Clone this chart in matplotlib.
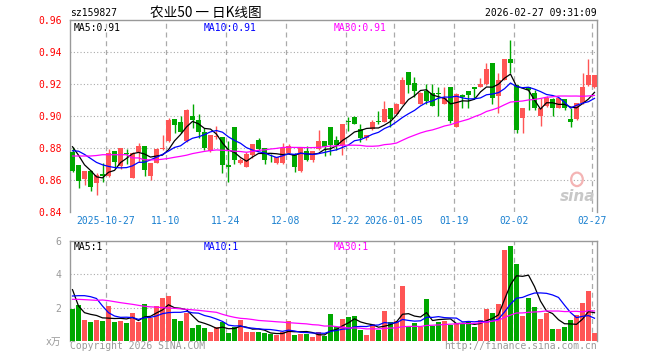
import numpy as np
import pandas as pd
import matplotlib
matplotlib.use("Agg")
import matplotlib.pyplot as plt
from matplotlib.patches import Ellipse

# ---------------- data ----------------
opens = [0.8777,0.8694,0.8608,0.8656,0.8583,0.8635,0.8623,0.8783,0.8690,0.8768,
         0.8615,0.8777,0.8812,0.8627,0.8708,0.8795,0.8844,0.8981,0.8963,0.8844,
         0.9000,0.8975,0.8902,0.8783,0.8868,0.8866,0.8692,0.8930,0.8704,0.8683,
         0.8756,0.8850,0.8800,0.8733,0.8704,0.8708,0.8767,0.8763,0.8656,0.8783,
         0.8725,0.8794,0.8844,0.8933,0.8850,0.8819,0.8967,0.8992,0.8921,0.8865,
         0.8917,0.8969,0.8965,0.9050,0.9013,0.9075,0.9275,0.9208,0.9075,0.9158,
         0.9146,0.9142,0.9075,0.9179,0.8933,0.9131,0.9158,0.9179,0.9179,0.9200,
         0.9329,0.9125,0.9225,0.9356,0.9194,0.8985,0.9179,0.9146,0.9000,0.9063,
         0.9104,0.9048,0.9104,0.8979,0.8979,0.9079,0.9194,0.9179]
highs = [0.8805,0.8694,0.8656,0.8660,0.8642,0.8704,0.8796,0.8783,0.8802,0.8796,
         0.8777,0.8832,0.8812,0.8706,0.8802,0.8881,0.8985,0.8981,0.9000,0.9044,
         0.9072,0.9010,0.8923,0.8881,0.8935,0.8866,0.8844,0.8930,0.8740,0.8775,
         0.8825,0.8860,0.8800,0.8760,0.8746,0.8829,0.8825,0.8770,0.8798,0.8810,
         0.8783,0.8913,0.8844,0.8933,0.8875,0.8950,0.8992,0.9000,0.8950,0.8883,
         0.8975,0.9033,0.9096,0.9050,0.9083,0.9242,0.9275,0.9242,0.9150,0.9200,
         0.9200,0.9179,0.9179,0.9179,0.9146,0.9140,0.9158,0.9179,0.9240,0.9329,
         0.9329,0.9267,0.9354,0.9475,0.9194,0.9048,0.9179,0.9160,0.9110,0.9125,
         0.9110,0.9115,0.9104,0.9048,0.9083,0.9267,0.9354,0.9256]
lows = [0.8652,0.8552,0.8569,0.8531,0.8506,0.8590,0.8617,0.8677,0.8669,0.8702,
        0.8610,0.8710,0.8627,0.8600,0.8708,0.8788,0.8840,0.8896,0.8892,0.8840,
        0.8925,0.8860,0.8790,0.8775,0.8855,0.8645,0.8590,0.8700,0.8700,0.8683,
        0.8740,0.8790,0.8700,0.8715,0.8700,0.8700,0.8760,0.8652,0.8650,0.8720,
        0.8712,0.8790,0.8750,0.8756,0.8790,0.8756,0.8908,0.8950,0.8840,0.8848,
        0.8913,0.8950,0.8963,0.8933,0.9013,0.9075,0.9146,0.9121,0.9075,0.9075,
        0.9060,0.9000,0.9075,0.8958,0.8929,0.9048,0.9048,0.9104,0.9179,0.9194,
        0.9075,0.9021,0.9225,0.9267,0.8892,0.8892,0.9040,0.9040,0.8938,0.9058,
        0.9000,0.9048,0.9038,0.8933,0.8975,0.9075,0.9188,0.9175]
closes = [0.8658,0.8596,0.8656,0.8558,0.8631,0.8625,0.8771,0.8715,0.8802,0.8762,
          0.8771,0.8812,0.8665,0.8706,0.8796,0.8800,0.8977,0.8944,0.8902,0.9035,
          0.8973,0.8902,0.8800,0.8881,0.8878,0.8694,0.8683,0.8725,0.8725,0.8760,
          0.8825,0.8794,0.8725,0.8730,0.8746,0.8798,0.8813,0.8683,0.8798,0.8725,
          0.8783,0.8844,0.8804,0.8819,0.8819,0.8950,0.8963,0.8950,0.8865,0.8883,
          0.8963,0.8965,0.9042,0.8979,0.9075,0.9225,0.9194,0.9158,0.9146,0.9096,
          0.9063,0.9138,0.9110,0.8971,0.9138,0.9117,0.9131,0.9167,0.9200,0.9292,
          0.9110,0.9225,0.9354,0.9329,0.8913,0.9048,0.9160,0.9048,0.9048,0.9110,
          0.9048,0.9110,0.9048,0.8965,0.9083,0.9179,0.9256,0.9256]
volumes = [1.90,2.16,1.24,1.12,1.24,1.18,2.08,1.12,1.18,1.06,
           1.66,1.12,2.20,1.36,2.08,2.56,2.68,1.30,1.18,1.66,
           0.76,0.94,0.76,0.52,0.82,1.12,0.46,0.82,1.24,0.52,
           0.52,0.52,0.46,0.40,0.34,0.52,1.18,0.34,0.40,0.40,
           0.22,0.52,0.28,1.60,0.84,1.32,1.42,1.48,0.66,0.34,
           1.00,0.66,1.78,1.12,1.18,3.28,0.84,1.06,0.84,2.50,
           0.90,1.12,1.18,0.94,1.08,1.00,1.12,0.84,1.24,1.90,
           1.66,2.20,5.44,5.68,4.60,1.48,2.56,2.02,1.30,1.66,
           0.70,0.70,0.82,1.24,1.54,2.26,2.98,0.46]

# moving-average values at the left edge (they depend on days before the window)
ma5_head = [0.8808,0.8755,0.8695,0.8660]
ma10_head = [0.8783,0.8780,0.8760,0.8735,0.8710,0.8695,0.8685,0.8678,0.8676]
ma30_head = [0.8750,0.8750,0.8750,0.8750,0.8753,0.8758,0.8758,0.8758,0.8758,0.8758,
             0.8738,0.8738,0.8726,0.8726,0.8726,0.8730,0.8735,0.8742,0.8748,0.8755,
             0.8765,0.8772,0.8779,0.8784,0.8788,0.8786,0.8784,0.8780,0.8778]
vma5_head = [3.08,2.10,1.70,1.60]
vma10_head = [2.70,2.72,2.72,2.66,2.55,2.10,1.70,1.50,1.42]
vma30_head = [2.50,2.50,2.48,2.46,2.44,2.46,2.42,2.36,2.30,2.25,
              2.20,2.14,2.08,2.05,2.03,2.00,1.98,1.96,1.93,1.90,
              1.87,1.84,1.80,1.76,1.72,1.60,1.50,1.42,1.36]

tick_labels = ["2025-10-27","11-10","11-24","12-08","12-22","2026-01-05","01-19","02-02","02-27"]
tick_index = [6,16,26,36,46,54,64,74,87]
price_ticks = [0.84,0.86,0.88,0.90,0.92,0.94,0.96]
vol_ticks = [2,4,6]

code = "sz159827"
title = "农业50 一 日K线图"
stamp = "2026-02-27 09:31:09"
legend_price = ["MA5:0.91", "MA10:0.91", "MA30:0.91"]
legend_vol = ["MA5:1", "MA10:1", "MA30:1"]

# ---------------- helpers ----------------
def with_head(values, n, head):
    s = pd.Series(values).rolling(n).mean().to_numpy()
    s[:len(head)] = head
    return s

ma5 = with_head(closes, 5, ma5_head)
ma10 = with_head(closes, 10, ma10_head)
ma30 = with_head(closes, 30, ma30_head)
vma5 = with_head(volumes, 5, vma5_head)
vma10 = with_head(volumes, 10, vma10_head)
vma30 = with_head(volumes, 30, vma30_head)

RED = "#ff5555"
GREEN = "#00a800"
GRID = "#aaaaaa"
SPINE = "#999999"
MA_COLORS = ["black", "#0000ff", "#ff00ff"]
MONO = "DejaVu Sans Mono"
CJK = ["Noto Sans CJK SC", "DejaVu Sans"]
FS = 7.0

W, H = 660, 360
fig = plt.figure(figsize=(W/100, H/100), dpi=100)
fig.patch.set_facecolor("white")

def fx(px): return px / W
def fy(py): return 1 - py / H

L, R = 70, 597
ax = fig.add_axes([fx(L), fy(212), fx(R-L), (212-20)/H])
axv = fig.add_axes([fx(L), fy(341), fx(R-L), (341-241)/H])

n = len(closes)
idx = np.arange(n)
xmin, xmax = -2.5/6, (R - 72.5)/6
bw = 5/6
tick_pos = [i - 2.5/6 for i in tick_index]

colors = [RED if c >= o else GREEN for o, c in zip(opens, closes)]

# ---- price panel ----
ax.vlines(idx, lows, highs, colors=colors, lw=1.0, zorder=3)
bot = np.minimum(opens, closes)
hgt = np.maximum(np.abs(np.array(closes) - np.array(opens)), 0.0004)
ax.bar(idx, hgt, bottom=bot, width=bw, color=colors, linewidth=0, zorder=4)
for series, c in zip([ma5, ma10, ma30], MA_COLORS):
    ax.plot(idx, series, color=c, lw=0.9, zorder=5)
ax.set_xlim(xmin, xmax)
ax.set_ylim(0.84, 0.96)
ax.set_yticks(price_ticks)
ax.set_yticklabels([f"{v:.2f}" for v in price_ticks], color="#ff0000",
                   fontsize=FS, family=MONO)
for v in price_ticks[1:-1]:
    ax.axhline(v, color=GRID, lw=0.8, ls=(0, (1, 2)), zorder=1)
for p in tick_pos:
    ax.axvline(p, color=GRID, lw=0.9, ls=(0, (4, 3)), zorder=1)
ax.set_xticks(tick_pos)
ax.set_xticklabels(tick_labels, color="#1a80d0", fontsize=FS, family=MONO)
ax.tick_params(length=0, pad=3)
ax.tick_params(axis="y", pad=6)
for side in ["top", "left", "right"]:
    ax.spines[side].set_color(SPINE)
    ax.spines[side].set_linewidth(1.0)
ax.spines["bottom"].set_visible(False)

for txt, c, off in zip(legend_price, MA_COLORS, [4, 134, 264]):
    ax.text(off/527, 0.985, txt, transform=ax.transAxes,
            ha="left", va="top", fontsize=FS, family=MONO, color=c)

# sina watermark
ax.text(0.997, 0.04, "sina", transform=ax.transAxes, ha="right", va="bottom",
        fontsize=11, fontweight="bold", style="italic", color="#c8c8c8", zorder=2)
ax.add_patch(Ellipse((0.962, 0.17), 0.022, 0.07, transform=ax.transAxes,
                     facecolor="none", edgecolor="#f4b4b4", lw=1.6, zorder=2))

# ---- volume panel ----
axv.bar(idx, volumes, width=bw, color=colors, linewidth=0, zorder=3)
for series, c in zip([vma5, vma10, vma30], MA_COLORS):
    axv.plot(idx, series, color=c, lw=0.9, zorder=5)
axv.set_xlim(xmin, xmax)
axv.set_ylim(0, 6)
axv.set_yticks([0] + vol_ticks)
axv.set_yticklabels(["x万"] + [str(v) for v in vol_ticks], color="#999999", fontsize=FS,
                    family=["DejaVu Sans Mono", "Noto Sans CJK SC"])
for v in vol_ticks[:-1]:
    axv.axhline(v, color=GRID, lw=0.8, ls=(0, (1, 2)), zorder=1)
for p in tick_pos:
    axv.axvline(p, color=GRID, lw=0.9, ls=(0, (4, 3)), zorder=1)
axv.set_xticks([])
axv.tick_params(length=0, pad=6)
for side in ["top", "left", "right"]:
    axv.spines[side].set_color(SPINE)
    axv.spines[side].set_linewidth(1.0)
axv.spines["bottom"].set_visible(False)
for txt, c, off in zip(legend_vol, MA_COLORS, [4, 134, 264]):
    axv.text(off/527, 0.985, txt, transform=axv.transAxes, ha="left", va="top",
             fontsize=FS, family=MONO, color=c)

# ---- header / footer ----
fig.text(fx(70), fy(13.5), code, ha="left", va="center", fontsize=FS, family=MONO, color="black")
fig.text(fx(206), fy(13.5), title, ha="center", va="center", fontsize=9.8, family=CJK, color="black")
fig.text(fx(597), fy(13.5), stamp, ha="right", va="center", fontsize=FS, family=MONO, color="black")
fig.text(fx(70), fy(346), "Copyright 2026 SINA.COM", ha="left", va="center",
         fontsize=FS, family=MONO, color="#999999")
fig.text(fx(597), fy(346), "http://finance.sina.com.cn", ha="right", va="center",
         fontsize=FS, family=MONO, color="#999999")

fig.savefig("out.png", dpi=100, facecolor="white")
